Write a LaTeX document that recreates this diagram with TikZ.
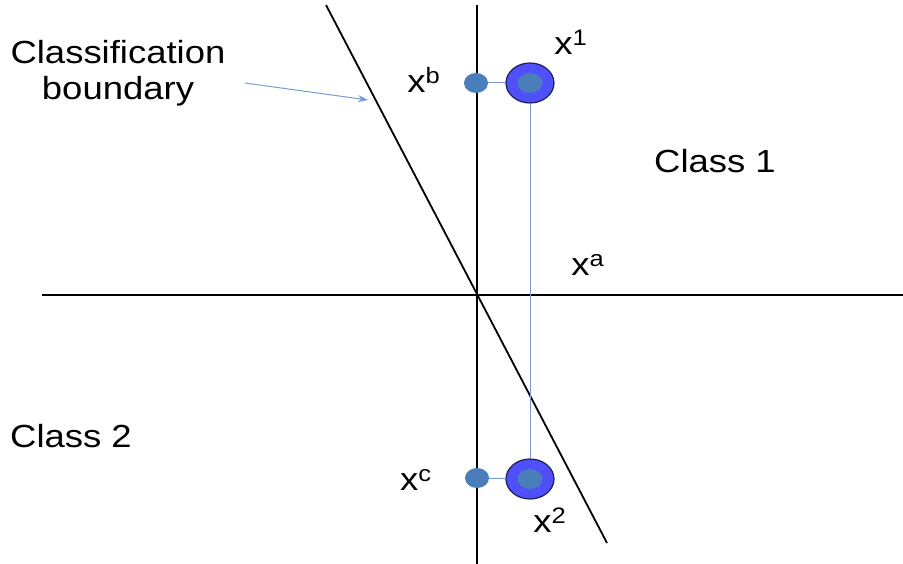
\documentclass[tikz,border=0pt]{standalone}
\usepackage{fontspec}
\setmainfont{Liberation Sans}
\usetikzlibrary{arrows.meta,shapes.geometric}
\definecolor{dotblue}{RGB}{74,126,187}
\definecolor{bigblue}{RGB}{80,80,250}
\definecolor{rimblue}{RGB}{30,30,90}
\definecolor{thinblue}{RGB}{120,155,210}
\newcommand{\hwide}[1]{\scalebox{1.14}[1]{#1}}
\tikzset{
  axis/.style={line width=1.5pt, black},
  bound/.style={line width=1.8pt, black},
  thin/.style={line width=1pt, thinblue},
  smalldot/.style={ellipse, fill=dotblue, minimum width=24pt, minimum height=20pt, inner sep=0pt},
  bigdot/.style={ellipse, draw=rimblue, line width=1.2pt, fill=bigblue, minimum width=48pt, minimum height=40pt, inner sep=0pt},
  innerdot/.style={ellipse, fill=dotblue, minimum width=25pt, minimum height=20pt, inner sep=0pt},
  lbl/.style={font=\fontsize{32}{36}\selectfont, inner sep=0pt},
}
\begin{document}
\begin{tikzpicture}[x=1pt,y=-1pt]
\useasboundingbox (0,0) rectangle (903,564);
% axes
\coordinate (vt) at (477,5);
\coordinate (vb) at (477,564);
\coordinate (hl) at (42,295);
\coordinate (hr) at (903,295);
\draw[axis] (vt) -- (vb);
\draw[axis] (hl) -- (hr);
% boundary
\coordinate (bt) at (326,5);
\coordinate (bb) at (607,543);
\draw[bound] (bt) -- (bb);
% points
\node[bigdot] (x1) at (530,83) {};
\node[innerdot] at (x1) {};
\node[bigdot] (x2) at (530,479) {};
\node[innerdot] at (x2) {};
\node[smalldot] (xb) at (476,83) {};
\node[smalldot] (xc) at (477,478) {};
\draw[thin] (xb) -- (x1);
\draw[thin] (xc) -- (x2);
\draw[thin] (x1) -- (x2);
% labels
\node[lbl] (l1) at (571,42) {\hwide{x\textsuperscript{1}}};
\node[lbl] (lb) at (424,80) {\hwide{x\textsuperscript{b}}};
\node[lbl] (la) at (588,265) {\hwide{x\textsuperscript{a}}};
\node[lbl] (lc) at (416,480) {\hwide{x\textsuperscript{c}}};
\node[lbl] (l2) at (550,520) {\hwide{x\textsuperscript{2}}};
\node[lbl] (c1) at (715,161) {\hwide{Class 1}};
\node[lbl] (c2) at (71,436) {\hwide{Class 2}};
\node[lbl, align=center] (cb) at (118,73) {\hwide{Classification}\\\hwide{boundary}};
\coordinate (arrs) at (245,83);
\coordinate (arre) at (368,100);
\draw[thin, -{Stealth[length=10pt,width=7pt]}] (arrs) -- (arre);
\end{tikzpicture}
\end{document}
